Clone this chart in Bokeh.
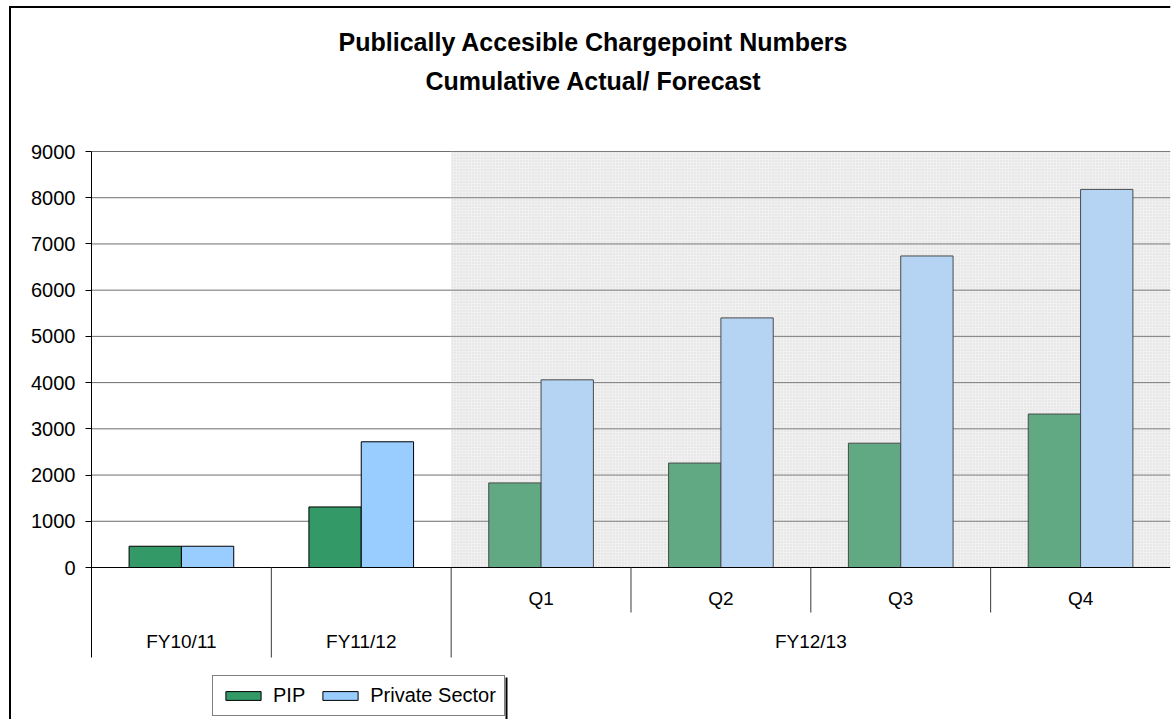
from bokeh.plotting import figure
from bokeh.models import Range1d, FixedTicker, Legend, LegendItem, ColumnDataSource
from bokeh.core.properties import value
from bokeh.embed import file_html
from bokeh.resources import INLINE

# ---------------- data ----------------
years = ["FY10/11", "FY11/12", "FY12/13"]
slot_year = ["FY10/11", "FY11/12", "FY12/13", "FY12/13", "FY12/13", "FY12/13"]
quarters = ["", "", "Q1", "Q2", "Q3", "Q4"]
pip = [460, 1310, 1830, 2260, 2690, 3320]
private = [460, 2720, 4060, 5400, 6740, 8180]
forecast = [False, False, True, True, True, True]
y_ticks = [0, 1000, 2000, 3000, 4000, 5000, 6000, 7000, 8000, 9000]
title_lines = ["Publically Accesible Chargepoint Numbers", "Cumulative Actual/ Forecast"]

# ---------------- layout constants (pixels) ----------------
W, H = 1171, 719
AXIS_PX = 91.0        # page x of the value axis
SLOT_PX = 179.83      # width of one category slot
ZERO_PX = 567.0       # page y of value 0
TOP_PX = 151.0        # page y of top tick
FONT = "Liberation Sans"
GREEN, BLUE = "#339966", "#99CCFF"
GREEN_F, BLUE_F = "#60A983", "#B5D4F3"

n = len(slot_year)
bw = 0.291
ymax = y_ticks[-1]
ppu = (ZERO_PX - TOP_PX) / ymax           # pixels per value unit
FRAME_R = W - 1                           # frame right edge (page px)


def px_x(px):
    return (px - AXIS_PX) / SLOT_PX


def px_y(py):
    return (ZERO_PX - py) / ppu


p = figure(width=W, height=H, output_backend="svg", toolbar_location=None,
           x_range=Range1d(px_x(0), px_x(FRAME_R)), y_range=Range1d(px_y(H), px_y(0)),
           x_axis_location=None, title=None,
           min_border_left=0, min_border_right=W - FRAME_R, min_border_top=0, min_border_bottom=0)
p.outline_line_color = None
p.background_fill_color = "white"
p.border_fill_color = "white"
p.xgrid.visible = False
p.ygrid.visible = False

# value axis (drawn at x = 0 inside the frame)
ya = p.yaxis[0]
ya.fixed_location = 0
ya.ticker = FixedTicker(ticks=y_ticks)
ya.axis_line_color = None
ya.major_tick_out = 6
ya.major_tick_in = 0
ya.minor_tick_out = 0
ya.minor_tick_in = 0
ya.major_tick_line_color = "black"
ya.major_label_standoff = 10
ya.major_label_text_font = FONT
ya.major_label_text_font_size = "20px"
ya.major_label_text_color = "black"

# shaded forecast region
first_fc = forecast.index(True)
p.quad(left=[first_fc], right=[n], bottom=[0], top=[ymax],
       fill_color="#F0F0F0", line_color=None,
       hatch_pattern="dot", hatch_color="#DCDCDC", hatch_scale=3, hatch_weight=1)

# gridlines
grid_y = y_ticks[1:]
p.segment(x0=[0] * len(grid_y), y0=grid_y, x1=[first_fc] * len(grid_y), y1=grid_y,
          line_color="#6E6E6E", line_width=1)
p.segment(x0=[first_fc] * len(grid_y), y0=grid_y, x1=[n] * len(grid_y), y1=grid_y,
          line_color="#7C7C7C", line_width=1)

# bars
xs = [i + 0.5 for i in range(n)]
act = [i for i in range(n) if not forecast[i]]
fc = [i for i in range(n) if forecast[i]]

src_a = ColumnDataSource(dict(xg=[xs[i] - bw / 2 for i in act], xb=[xs[i] + bw / 2 for i in act],
                              pip=[pip[i] for i in act], prv=[private[i] for i in act]))
src_f = ColumnDataSource(dict(xg=[xs[i] - bw / 2 for i in fc], xb=[xs[i] + bw / 2 for i in fc],
                              pip=[pip[i] for i in fc], prv=[private[i] for i in fc]))

r_pip = p.vbar(x="xg", top="pip", bottom=0, width=bw, source=src_a,
               fill_color=GREEN, line_color="black", line_width=1)
r_prv = p.vbar(x="xb", top="prv", bottom=0, width=bw, source=src_a,
               fill_color=BLUE, line_color="black", line_width=1)
p.vbar(x="xg", top="pip", bottom=0, width=bw, source=src_f,
       fill_color=GREEN_F, line_color="#4A4A4A", line_width=1)
p.vbar(x="xb", top="prv", bottom=0, width=bw, source=src_f,
       fill_color=BLUE_F, line_color="#4A4A4A", line_width=1)

# zero line
p.segment(x0=[0], y0=[0], x1=[n], y1=[0], line_color="black", line_width=1)

# category dividers and labels
year_bounds = [0] + [i for i in range(1, n) if slot_year[i] != slot_year[i - 1]]
quarter_bounds = [i for i in range(1, n) if slot_year[i] == slot_year[i - 1]]
long_end = px_y(657)
short_end = px_y(612)

p.segment(x0=[0], y0=[long_end], x1=[0], y1=[ymax], line_color="black", line_width=1)
p.segment(x0=year_bounds[1:], y0=[long_end] * (len(year_bounds) - 1),
          x1=year_bounds[1:], y1=[0] * (len(year_bounds) - 1), line_color="#3A3A3A", line_width=1)
p.segment(x0=quarter_bounds, y0=[short_end] * len(quarter_bounds),
          x1=quarter_bounds, y1=[0] * len(quarter_bounds), line_color="#3A3A3A", line_width=1)

qx = [xs[i] for i in range(n) if quarters[i]]
qt = [quarters[i] for i in range(n) if quarters[i]]
p.text(x=qx, y=[px_y(598)] * len(qx), text=qt, text_font=value(FONT),
       text_font_size="19px", text_align="center", text_baseline="middle", text_color="black")

yx = []
for yname in years:
    idx = [i for i in range(n) if slot_year[i] == yname]
    yx.append((idx[0] + idx[-1] + 1) / 2)
p.text(x=yx, y=[px_y(641)] * len(yx), text=years, text_font=value(FONT),
       text_font_size="19px", text_align="center", text_baseline="middle", text_color="black")

# title
p.text(x=[px_x(593)] * 2, y=[px_y(41), px_y(80)], text=title_lines, text_font=value(FONT),
       text_font_size="25px", text_font_style="bold", text_align="center",
       text_baseline="middle", text_color="black")

# outer chart border (left and top edges are visible)
p.segment(x0=[px_x(9.5), px_x(8.5)], y0=[px_y(H), px_y(6.5)],
          x1=[px_x(9.5), px_x(FRAME_R)], y1=[px_y(5.5), px_y(6.5)],
          line_color="black", line_width=2)

# legend
legend = Legend(items=[LegendItem(label="PIP", renderers=[r_pip]),
                       LegendItem(label="Private Sector", renderers=[r_prv])],
                orientation="horizontal", location=(212, H - 716),
                border_line_color="black", border_line_width=1,
                background_fill_color="white", background_fill_alpha=1,
                padding=8, spacing=13, label_standoff=8, margin=0,
                glyph_width=44, glyph_height=11,
                label_text_font=FONT, label_text_font_size="20px", label_text_color="black")
p.add_layout(legend)
# heavier right edge of the legend box
p.segment(x0=[px_x(506)], y0=[px_y(H)], x1=[px_x(506)], y1=[px_y(677)],
          line_color="black", line_width=2)

open("out.html", "w").write(file_html(p, INLINE))
